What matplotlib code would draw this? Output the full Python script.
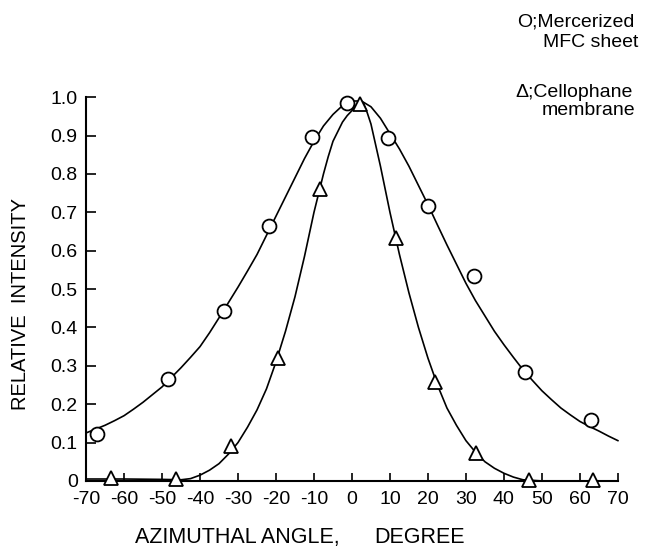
import matplotlib
matplotlib.use("Agg")
import matplotlib.pyplot as plt

plt.rcParams['font.family'] = ['Liberation Sans', 'DejaVu Sans']

# Measured points
mfc_x = [-67.2, -48.4, -33.8, -21.9, -10.6, -1.2, 9.6, 20.1, 32.0, 45.5, 63.0]
mfc_y = [0.122, 0.265, 0.443, 0.664, 0.897, 0.985, 0.893, 0.716, 0.533, 0.283, 0.158]

cel_x = [-63.5, -46.2, -31.8, -19.5, -8.4, 2.0, 11.6, 21.9, 32.7, 46.7, 63.5]
cel_y = [0.008, 0.006, 0.090, 0.320, 0.760, 0.982, 0.632, 0.257, 0.072, 0.003, 0.002]

# Fitted curves
mfc_curve_x = [-70, -67.5, -65, -62.5, -60, -57.5, -55, -52.5, -50, -47.5, -45, -42.5, -40, -37.5,
               -35, -32.5, -30, -27.5, -25, -22.5, -20, -17.5, -15, -12.5, -10, -7.5, -5, -2.5,
               0, 2.5, 5, 7.5, 10, 12.5, 15, 17.5, 20, 22.5, 25, 27.5, 30, 32.5, 35, 37.5, 40,
               42.5, 45, 47.5, 50, 52.5, 55, 57.5, 60, 62.5, 65, 67.5, 70]
mfc_curve_y = [0.125, 0.135, 0.145, 0.157, 0.17, 0.187, 0.205, 0.225, 0.245, 0.27, 0.295, 0.322,
               0.35, 0.386, 0.425, 0.465, 0.505, 0.547, 0.59, 0.64, 0.69, 0.74, 0.79, 0.84, 0.885,
               0.925, 0.955, 0.978, 0.99, 0.99, 0.975, 0.945, 0.905, 0.865, 0.82, 0.77, 0.72,
               0.667, 0.615, 0.565, 0.515, 0.47, 0.43, 0.39, 0.355, 0.322, 0.29, 0.262, 0.235,
               0.212, 0.19, 0.172, 0.155, 0.142, 0.13, 0.117, 0.105]

cel_curve_x = [-70, -60, -50, -45, -42.5, -40, -37.5, -35, -32.5, -30, -27.5, -25, -22.5, -20,
               -17.5, -15, -12.5, -10, -8.75, -7.5, -6.25, -5, -3.75, -2.5, -1.25, 0, 1, 2, 3, 4,
               5, 6.25, 7.5, 8.75, 10, 11.25, 12.5, 13.75, 15, 17.5, 20, 22.5, 25, 27.5, 30, 32.5,
               35, 37.5, 40, 42.5, 45, 50, 60, 70]
cel_curve_y = [0.005, 0.005, 0.004, 0.003, 0.006, 0.015, 0.028, 0.045, 0.07, 0.10, 0.14, 0.185,
               0.24, 0.31, 0.39, 0.48, 0.585, 0.70, 0.75, 0.80, 0.845, 0.885, 0.91, 0.935, 0.952,
               0.965, 0.977, 0.985, 0.985, 0.96, 0.93, 0.875, 0.82, 0.76, 0.70, 0.645, 0.59,
               0.54, 0.49, 0.40, 0.32, 0.25, 0.19, 0.145, 0.105, 0.075, 0.05, 0.033, 0.02, 0.01,
               0.003, 0.0, 0.0, 0.0]

xticks = [-70, -60, -50, -40, -30, -20, -10, 0, 10, 20, 30, 40, 50, 60, 70]
xtick_labels = ["-70", "-60", "-50", "-40", "-30", "-20", "-10", "0", "10", "20", "30", "40", "50", "60", "70"]
yticks = [0, 0.1, 0.2, 0.3, 0.4, 0.5, 0.6, 0.7, 0.8, 0.9, 1.0]
ytick_labels = ["0", "0.1", "0.2", "0.3", "0.4", "0.5", "0.6", "0.7", "0.8", "0.9", "1.0"]

fig = plt.figure(figsize=(6.47, 5.49), dpi=100)
ax = fig.add_axes([0.133, 0.124, 0.822, 0.699])

ax.plot(mfc_curve_x, mfc_curve_y, color='black', lw=1.2, clip_on=False)
ax.plot(cel_curve_x, cel_curve_y, color='black', lw=1.2, clip_on=False)
ax.plot(mfc_x, mfc_y, linestyle='none', marker='o', markersize=10, markerfacecolor='white',
        markeredgecolor='black', markeredgewidth=1.3, clip_on=False, zorder=3)
ax.plot(cel_x, cel_y, linestyle='none', marker='^', markersize=10, markerfacecolor='white',
        markeredgecolor='black', markeredgewidth=1.3, clip_on=False, zorder=3)

ax.set_xlim(-70, 70)
ax.set_ylim(0, 1.0)
ax.spines['top'].set_visible(False)
ax.spines['right'].set_visible(False)
ax.spines['left'].set_linewidth(1.5)
ax.spines['bottom'].set_linewidth(1.5)
ax.set_xticks(xticks)
ax.set_xticklabels(xtick_labels)
ax.set_yticks(yticks)
ax.set_yticklabels(ytick_labels)
ax.tick_params(axis='both', direction='in', labelsize=14, width=1.2)
ax.tick_params(axis='y', length=7, pad=6)
ax.tick_params(axis='x', length=6, pad=7)

fig.text(0.031, 0.447, "RELATIVE  INTENSITY", rotation=90, ha='center', va='center',
         fontsize=14.5)
fig.text(0.209, 0.021, "AZIMUTHAL ANGLE,", ha='left', va='center', fontsize=15.5)
fig.text(0.578, 0.021, "DEGREE", ha='left', va='center', fontsize=15.5)

fig.text(0.800, 0.960, "O;Mercerized", ha='left', va='center', fontsize=14)
fig.text(0.839, 0.922, "MFC sheet", ha='left', va='center', fontsize=14)
fig.text(0.796, 0.832, "Δ;Cellophane", ha='left', va='center', fontsize=14)
fig.text(0.838, 0.799, "membrane", ha='left', va='center', fontsize=14)

fig.savefig("out.png", dpi=100)
